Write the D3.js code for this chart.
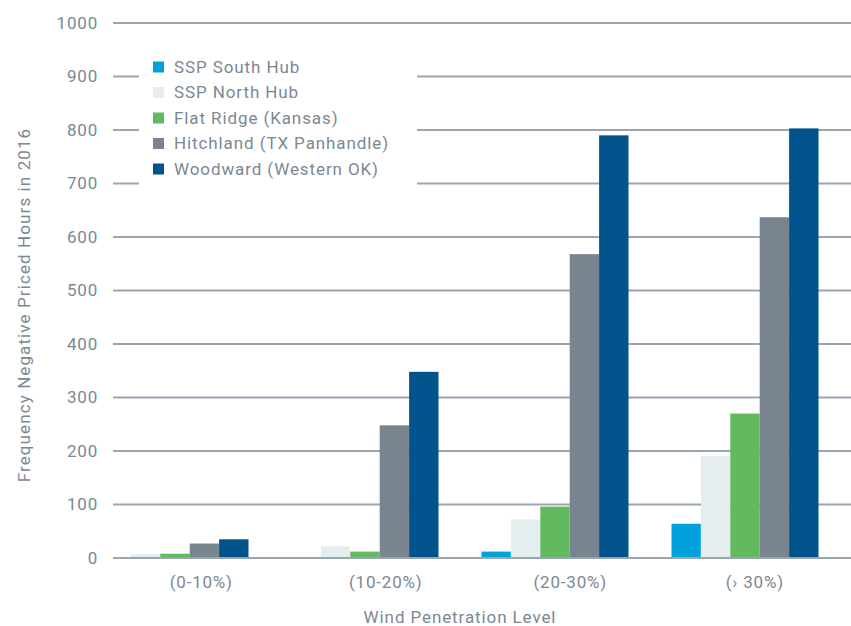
<!DOCTYPE html>
<html>
<head>
<meta charset="utf-8">
<script src="https://cdn.jsdelivr.net/npm/d3@7"></script>
<style>
  body { margin: 0; background: #ffffff; }
  svg text { font-family: Roboto, "DejaVu Sans", sans-serif; fill: #7b8892; }
</style>
</head>
<body>
<div id="chart"></div>
<script>
// ============================================
// DATA
// ============================================
const categories = ["(0-10%)", "(10-20%)", "(20-30%)", "(\u203A 30%)"];
const seriesNames = [
  "SSP South Hub",
  "SSP North Hub",
  "Flat Ridge (Kansas)",
  "Hitchland (TX Panhandle)",
  "Woodward (Western OK)",
];
const southHub = [0, 0, 12, 64];
const northHub = [7, 22, 72, 191];
const flatRidge = [8, 12, 96, 270];
const hitchland = [27, 248, 568, 637];
const woodward = [35, 348, 790, 803];
const yTicks = [0, 100, 200, 300, 400, 500, 600, 700, 800, 900, 1000];

const seriesValues = [southHub, northHub, flatRidge, hitchland, woodward];
const colors = ["#00a1dd", "#e4eeef", "#63b95f", "#788591", "#00548b"];

// ============================================
// LAYOUT
// ============================================
const width = 851;
const height = 626;
const plotLeft = 113;
const plotRight = 851;

const svg = d3
  .select("#chart")
  .append("svg")
  .attr("width", width)
  .attr("height", height);

const y = d3.scaleLinear().domain([0, 1000]).range([558, 23]);

// label positions follow the full plot width
const xLabel = d3.scaleBand().domain(categories).range([plotLeft, plotRight]);

// bars sit a bit left of the label bands (as in the source chart)
const xGroup = d3.scaleBand().domain(categories).range([80, 840]);
const xSeries = d3
  .scaleBand()
  .domain(seriesNames)
  .range([-73.5, 73.5]);

// gridlines
svg
  .append("g")
  .selectAll("line")
  .data(yTicks)
  .join("line")
  .attr("x1", plotLeft)
  .attr("x2", plotRight)
  .attr("y1", (d) => y(d))
  .attr("y2", (d) => y(d))
  .attr("stroke", "#9aa6af")
  .attr("stroke-width", 2);

// y tick labels
svg
  .append("g")
  .selectAll("text")
  .data(yTicks)
  .join("text")
  .attr("x", 98)
  .attr("y", (d) => y(d))
  .attr("dy", "0.35em")
  .attr("text-anchor", "end")
  .style("font-size", "17px")
  .style("letter-spacing", "0.8px")
  .text((d) => d);

// bars
const rows = [];
seriesNames.forEach((s, si) => {
  categories.forEach((c, ci) => {
    rows.push({ series: s, cat: c, value: seriesValues[si][ci], color: colors[si] });
  });
});

svg
  .append("g")
  .selectAll("rect")
  .data(rows)
  .join("rect")
  .attr("x", (d) => xGroup(d.cat) + xGroup.bandwidth() / 2 + xSeries(d.series))
  .attr("width", xSeries.bandwidth())
  .attr("y", (d) => y(d.value))
  .attr("height", (d) => y(0) - y(d.value))
  .attr("fill", (d) => d.color);

// baseline on top of the bars
svg
  .append("line")
  .attr("x1", plotLeft)
  .attr("x2", plotRight)
  .attr("y1", y(0))
  .attr("y2", y(0))
  .attr("stroke", "#9aa6af")
  .attr("stroke-width", 2);

// x category labels
svg
  .append("g")
  .selectAll("text")
  .data(categories)
  .join("text")
  .attr("x", (d) => xLabel(d) + xLabel.bandwidth() / 2 - 4)
  .attr("y", 582)
  .attr("dy", "0.35em")
  .attr("text-anchor", "middle")
  .style("font-size", "17px")
  .style("letter-spacing", "0.8px")
  .text((d) => d);

// axis titles
svg
  .append("text")
  .attr("x", 460)
  .attr("y", 617)
  .attr("dy", "0.35em")
  .attr("text-anchor", "middle")
  .style("font-size", "17px")
  .style("letter-spacing", "0.9px")
  .text("Wind Penetration Level");

svg
  .append("text")
  .attr("transform", "translate(24,305) rotate(-90)")
  .attr("dy", "0.35em")
  .attr("text-anchor", "middle")
  .style("font-size", "17px")
  .style("letter-spacing", "1.1px")
  .text("Frequency Negative Priced Hours in 2016");

// legend (white box hides the gridlines behind it)
const legend = svg.append("g");
legend
  .append("rect")
  .attr("x", 139)
  .attr("y", 52)
  .attr("width", 278)
  .attr("height", 136)
  .attr("fill", "#ffffff");

const items = legend
  .selectAll("g")
  .data(seriesNames)
  .join("g")
  .attr("transform", (d, i) => `translate(153,${67 + i * 25.5})`);

items
  .append("rect")
  .attr("x", 0)
  .attr("y", -5.5)
  .attr("width", 11)
  .attr("height", 11)
  .attr("fill", (d, i) => colors[i]);

items
  .append("text")
  .attr("x", 21)
  .attr("dy", "0.35em")
  .style("font-size", "17px")
  .style("letter-spacing", "0.9px")
  .text((d) => d);
</script>
</body>
</html>
